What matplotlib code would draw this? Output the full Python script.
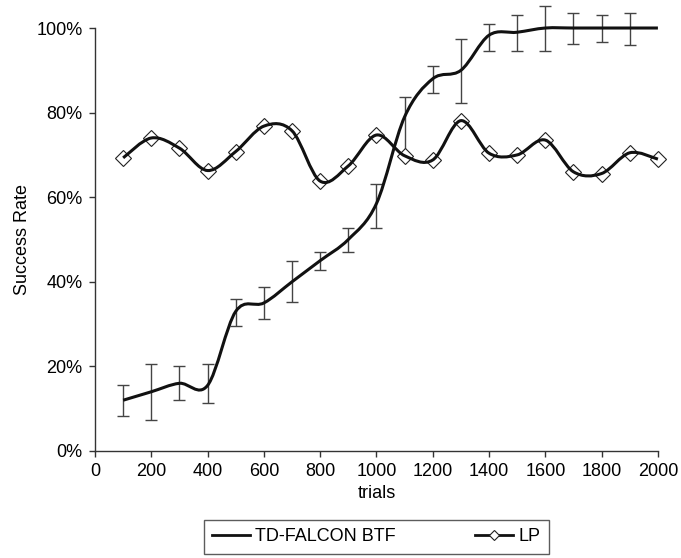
import matplotlib
matplotlib.use('Agg')
import matplotlib.pyplot as plt
import numpy as np
from matplotlib.path import Path
from matplotlib.patches import PathPatch
from matplotlib.lines import Line2D
from matplotlib.ticker import PercentFormatter

plt.rcParams['font.family'] = ['Liberation Sans', 'DejaVu Sans']

# ====== data ======
trials = [100, 200, 300, 400, 500, 600, 700, 800, 900, 1000,
          1100, 1200, 1300, 1400, 1500, 1600, 1700, 1800, 1900, 2000]
falcon = [0.12, 0.14, 0.16, 0.155, 0.33, 0.35, 0.40, 0.45, 0.50, 0.585,
          0.79, 0.88, 0.90, 0.983, 0.99, 1.00, 1.00, 1.00, 1.00, 1.00]
falcon_top = [0.156, 0.206, 0.200, 0.206, 0.360, 0.388, 0.448, 0.470, 0.528, 0.631,
              0.837, 0.910, 0.975, 1.010, 1.030, 1.053, 1.035, 1.030, 1.036, 1.00]
falcon_bot = [0.083, 0.073, 0.120, 0.113, 0.296, 0.312, 0.353, 0.428, 0.470, 0.526,
              0.700, 0.847, 0.822, 0.946, 0.946, 0.945, 0.962, 0.966, 0.960, 1.00]
lp = [0.693, 0.740, 0.716, 0.663, 0.708, 0.768, 0.757, 0.638, 0.674, 0.747,
      0.698, 0.688, 0.781, 0.704, 0.700, 0.735, 0.660, 0.656, 0.705, 0.690]


def smooth_path(x, y):
    # excel-like smoothed line drawn as bezier segments
    x = np.asarray(x, float)
    y = np.asarray(y, float)
    n = len(x)
    verts = [(x[0], y[0])]
    codes = [Path.MOVETO]
    for i in range(n - 1):
        i0 = max(i - 1, 0)
        i3 = min(i + 2, n - 1)
        c1 = (x[i] + (x[i + 1] - x[i0]) / 6, y[i] + (y[i + 1] - y[i0]) / 6)
        c2 = (x[i + 1] - (x[i3] - x[i]) / 6, y[i + 1] - (y[i3] - y[i]) / 6)
        verts += [c1, c2, (x[i + 1], y[i + 1])]
        codes += [Path.CURVE4] * 3
    return Path(verts, codes)


fig = plt.figure(figsize=(6.81, 5.58), dpi=100)
ax = fig.add_axes([0.1395, 0.1918, 0.8266, 0.758])

yerr = [np.array(falcon) - np.array(falcon_bot), np.array(falcon_top) - np.array(falcon)]
ax.errorbar(trials[:-1], falcon[:-1], yerr=[yerr[0][:-1], yerr[1][:-1]], fmt='none',
            ecolor='#444444', elinewidth=1, capsize=4.5, capthick=1, clip_on=False, zorder=2)

ax.plot(trials, lp, linestyle='none', marker='D', markersize=8,
        markerfacecolor='white', markeredgecolor='#222222', markeredgewidth=0.8,
        clip_on=False, zorder=3)

ax.add_patch(PathPatch(smooth_path(trials, lp), fill=False, edgecolor='#111111',
                       linewidth=2.2, clip_on=False, zorder=4))
ax.add_patch(PathPatch(smooth_path(trials, falcon), fill=False, edgecolor='#111111',
                       linewidth=2.2, clip_on=False, zorder=4))

ax.set_xlim(0, 2000)
ax.set_ylim(0, 1)
ax.set_xticks(np.arange(0, 2001, 200))
ax.set_yticks(np.arange(0, 1.01, 0.2))
ax.yaxis.set_major_formatter(PercentFormatter(1.0, decimals=0))
ax.spines['top'].set_visible(False)
ax.spines['right'].set_visible(False)
for s in ['left', 'bottom']:
    ax.spines[s].set_color('#333333')
    ax.spines[s].set_linewidth(1)
ax.tick_params(direction='out', length=4, width=1, color='#333333',
               labelsize=13, pad=5)
ax.set_xlabel('trials', fontsize=13, labelpad=3)
ax.set_ylabel('Success Rate', fontsize=13, labelpad=4)

handles = [Line2D([], [], color='#111111', linewidth=2),
           Line2D([], [], color='#111111', linewidth=2, marker='D', markersize=5,
                  markerfacecolor='white', markeredgecolor='#222222', markeredgewidth=0.8)]
leg = ax.legend(handles, ['TD-FALCON BTF', 'LP'], loc='upper center',
                bbox_to_anchor=(0.5, -0.164), ncol=2, fontsize=13, frameon=True,
                fancybox=False, edgecolor='#333333', handlelength=2.1,
                handletextpad=0.3, columnspacing=4.4, borderpad=0.45,
                borderaxespad=0)
leg.get_frame().set_linewidth(1)

fig.savefig('out.png', dpi=100)
